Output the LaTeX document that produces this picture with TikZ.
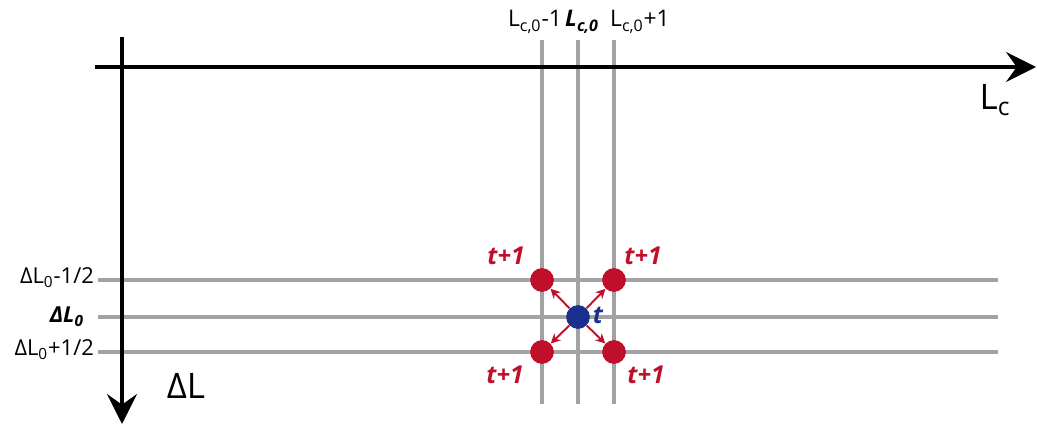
\documentclass[tikz,border=0pt]{standalone}
\usepackage{amsmath}
\usepackage{fontspec}
\setmainfont{Open Sans}
\usepackage{tikz}
\usetikzlibrary{arrows.meta,calc,positioning}

\definecolor{gridgray}{HTML}{A3A3A3}
\definecolor{jumpred}{HTML}{C00F2A}
\definecolor{startblue}{HTML}{1B2F8C}

\newcommand{\lsub}[1]{$_{\text{#1}}$}

\begin{document}
\begin{tikzpicture}[x=0.02cm, y=-0.02cm,
		axis/.style={line width=2.3pt, -{Stealth[length=17pt, width=17pt, inset=6pt]}},
		gridline/.style={line width=2.2pt, gridgray},
		dot/.style={circle, inner sep=0pt, minimum size=13.5pt},
		jump/.style={line width=1.1pt, jumpred, -{Stealth[length=5.5pt, width=5.5pt]}},
		tlab/.style={jumpred, font=\fontsize{14}{16}\selectfont\bfseries\itshape},
		toplab/.style={font=\fontsize{13}{15}\selectfont, anchor=base},
		leftlab/.style={font=\fontsize{12.5}{14}\selectfont, anchor=east, inner sep=1pt}]
		\useasboundingbox (0,0) rectangle (1037,425);

		% grid lines
		\draw[gridline] (542,40) -- (542,404);
		\draw[gridline] (578,40) -- (578,404);
		\draw[gridline] (614,40) -- (614,404);
		\draw[gridline] (98,280) -- (998,280);
		\draw[gridline] (98,317) -- (998,317);
		\draw[gridline] (98,352) -- (998,352);

		% axes
		\draw[axis] (95,67) -- (1036,67);
		\draw[axis] (122,37) -- (122,424);
		\node[font=\fontsize{20}{22}\selectfont] (lc) at (995,100) {L\lsub{c}};
		\node[font=\fontsize{20}{22}\selectfont] (dl) at (186,386) {ΔL};

		% axis labels
		\node[toplab] (lm) at (535,27) {L\lsub{c,0}-1};
		\node[toplab, font=\fontsize{13}{15}\selectfont\bfseries\itshape] (l0) at (582,27) {L\lsub{c,0}};
		\node[toplab] (lp) at (640,27) {L\lsub{c,0}+1};
		\node[leftlab] (dm) at (96,278) {ΔL\lsub{0}-1/2};
		\node[leftlab, font=\fontsize{12.5}{14}\selectfont\bfseries\itshape] (d0) at (86,317) {ΔL\lsub{0}};
		\node[leftlab] (dp) at (96,350) {ΔL\lsub{0}+1/2};

		% dots
		\node[dot, fill=startblue] (c) at (578,317) {};
		\node[dot, fill=jumpred] (tl) at (542,280) {};
		\node[dot, fill=jumpred] (tr) at (614,280) {};
		\node[dot, fill=jumpred] (bl) at (542,352) {};
		\node[dot, fill=jumpred] (br) at (614,352) {};

		\foreach \n in {tl,tr,bl,br}
			\draw[jump] (c) -- (\n);

		\node[tlab, text=startblue] (t) at (598,315) {t};
		\node[tlab] (ttl) at (506,256) {t+1};
		\node[tlab] (ttr) at (643,256) {t+1};
		\node[tlab] (tbl) at (505,375) {t+1};
		\node[tlab] (tbr) at (646,375) {t+1};
	\end{tikzpicture}
\end{document}
